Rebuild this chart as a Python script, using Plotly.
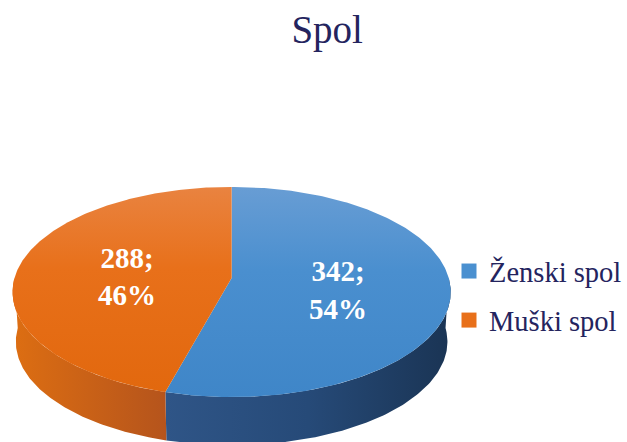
import numpy as np
import plotly.graph_objects as go

# ---- data ----
categories = ["Ženski spol", "Muški spol"]
values = [342, 288]
percents = [54, 46]
title_text = "Spol"

top_colors = [[[0, "#3F86C8"], [0.6, "#4A8FCF"], [1, "#689DD4"]],
              [[0, "#E2680E"], [0.6, "#E8701A"], [1, "#E98340"]]]
wall_colors = [[[0, "#2F5587"], [0.5, "#264A78"], [1, "#1A3454"]],
               [[0, "#DD6E12"], [1, "#B5541C"]]]
legend_colors = ["#4A90D0", "#E8701A"]
ink = "#24245E"

# ---- tilted-disc projection (axes are in page pixels) ----
W, H = 627, 442
CX, CY, RX, RY, PERSP, DEPTH = 232, 278, 217.5, 103.2, 0.133, 50


def project(theta_deg, frac=1.0, scale=1.0, drop=0.0):
    t = np.radians(theta_deg)
    u, v = np.sin(t) * frac, -np.cos(t) * frac
    w = 1 - PERSP * v
    return CX + RX * scale * u / w, CY + RY * scale * v / w + drop


fig = go.Figure()
total = sum(values)
edges = np.concatenate([[0], np.cumsum(values) / total * 360])

# side walls first: only the part of each slice facing the viewer
for i in range(len(values)):
    a, b = max(edges[i], 90), min(edges[i + 1], 270)
    th = np.linspace(a, b, 120)
    x1, y1 = project(th)
    x2, y2 = project(th[::-1], scale=0.985, drop=DEPTH)
    fig.add_trace(go.Scatter(
        x=np.concatenate([x1, x2]), y=np.concatenate([y1, y2]),
        mode="lines", line=dict(width=0), fill="toself",
        fillgradient=dict(type="horizontal", colorscale=wall_colors[i]),
        showlegend=False, hoverinfo="skip"))

# top faces
for i in range(len(values)):
    th = np.linspace(edges[i], edges[i + 1], 240)
    x, y = project(th)
    fig.add_trace(go.Scatter(
        x=np.concatenate([[CX], x, [CX]]), y=np.concatenate([[CY], y, [CY]]),
        mode="lines", line=dict(width=0), fill="toself",
        fillgradient=dict(type="vertical", colorscale=top_colors[i]),
        showlegend=False, hoverinfo="skip"))

# data labels
for i in range(len(values)):
    mid = (edges[i] + edges[i + 1]) / 2
    lx, ly = project(mid, frac=0.49, drop=8)
    fig.add_trace(go.Scatter(
        x=[lx], y=[ly], mode="text",
        text=[f"<b>{values[i]};<br>{percents[i]}%</b>"],
        textposition="middle center",
        textfont=dict(family="Liberation Serif", size=29, color="white"),
        showlegend=False, hoverinfo="skip"))

# legend entries
for i, name in enumerate(categories):
    fig.add_trace(go.Scatter(
        x=[None], y=[None], mode="markers", name=name, legendgroup=name,
        marker=dict(symbol="square", size=15, color=legend_colors[i])))

fig.update_layout(
    width=W, height=H, margin=dict(l=0, r=0, t=0, b=0),
    paper_bgcolor="white", plot_bgcolor="white",
    title=dict(text=title_text, x=0.5218, xanchor="center", y=0.934, yanchor="middle",
               font=dict(family="Liberation Serif", size=39, color=ink)),
    xaxis=dict(range=[0, W], visible=False, fixedrange=True),
    yaxis=dict(range=[H, 0], visible=False, fixedrange=True),
    legend=dict(x=450 / W, xanchor="left", y=1 - 246 / H, yanchor="top",
                bgcolor="rgba(0,0,0,0)", traceorder="grouped", tracegroupgap=9,
                font=dict(family="Liberation Serif", size=28.5, color=ink)),
    showlegend=True,
)
fig.write_html("out.html", post_script="document.body.style.margin='0';",
               config={"displayModeBar": False})
